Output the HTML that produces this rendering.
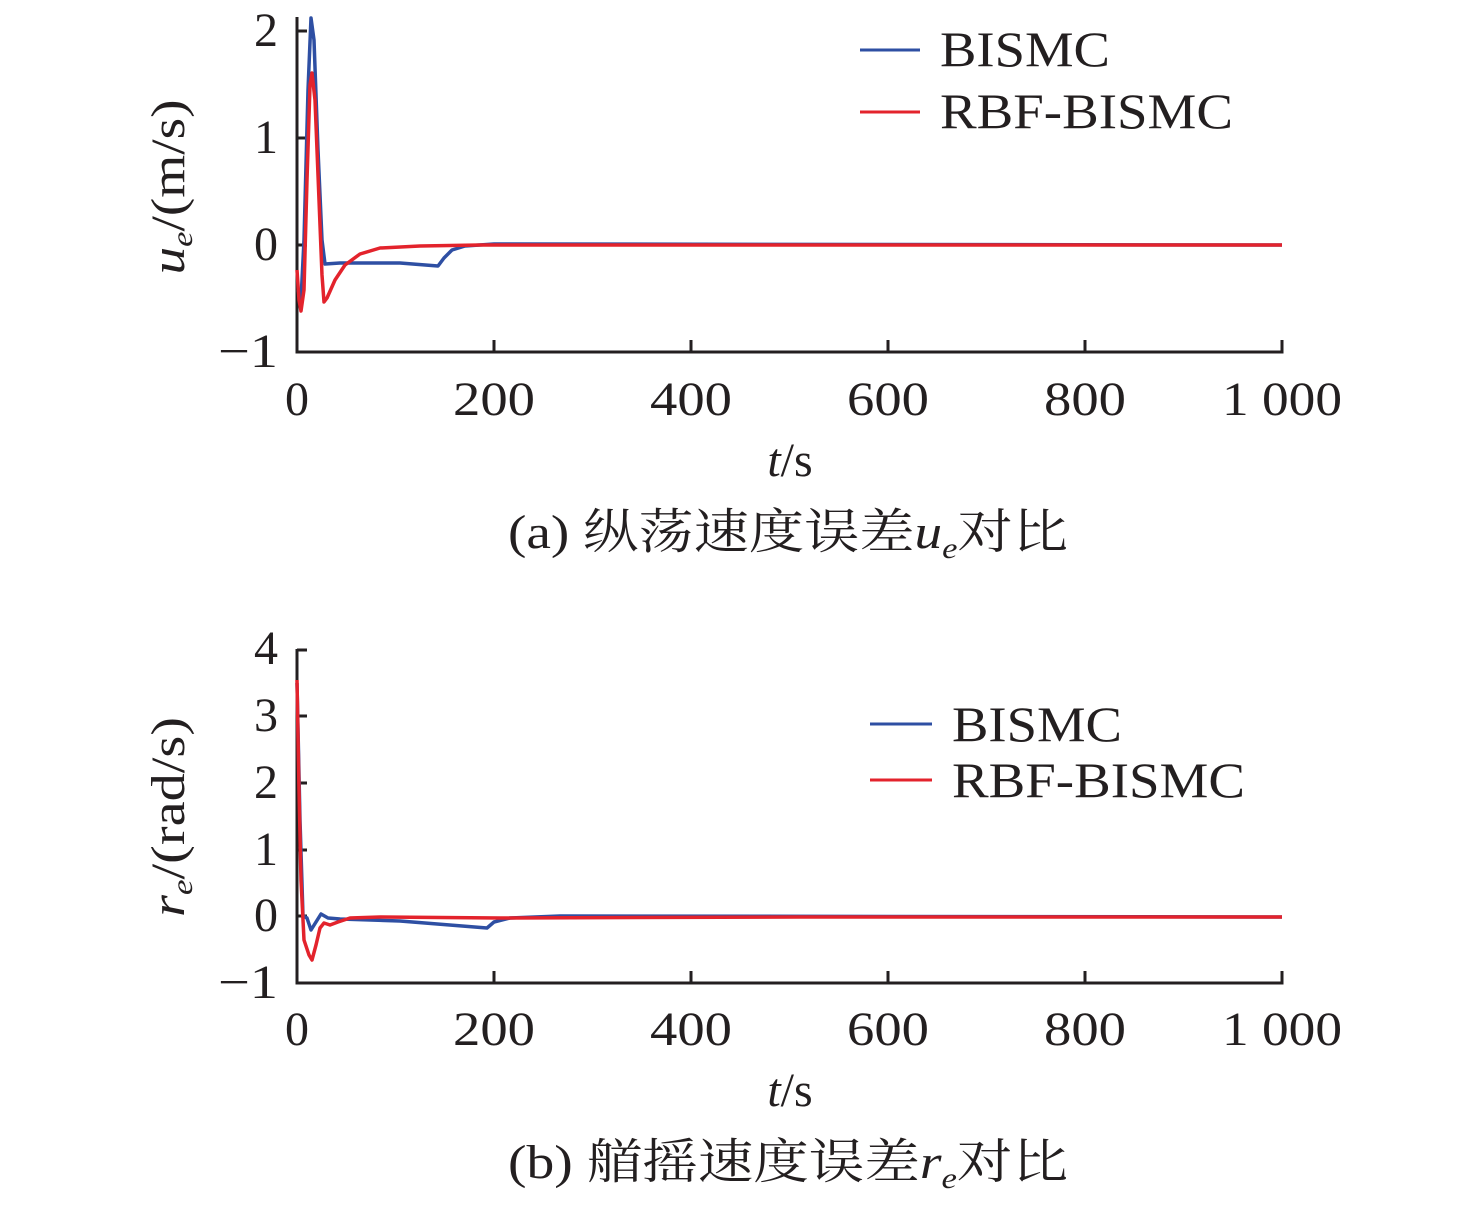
<!DOCTYPE html>
<html><head><meta charset="utf-8"><style>
body{margin:0;background:#fff}
svg text{font-family:"Liberation Serif","Noto Serif CJK SC",serif;fill:#231f20}
</style></head><body>
<svg width="1476" height="1208" viewBox="0 0 1476 1208" xmlns="http://www.w3.org/2000/svg">
<g stroke="#231f20" stroke-width="3" fill="none">
<path d="M297 17 V352 H1282 V340"/>
<path d="M297 31 H307 M297 138 H307 M297 245 H307 M494 352 V340 M691 352 V340 M888 352 V340 M1085 352 V340"/>
<path d="M297 649 V983 H1282 V971"/>
<path d="M297 650 H307 M297 716 H307 M297 783 H307 M297 850 H307 M297 916 H307 M494 983 V971 M691 983 V971 M888 983 V971 M1085 983 V971"/>
</g>
<g font-size="48" text-anchor="end">
<text x="278" y="46">2</text><text x="278" y="153">1</text><text x="278" y="260">0</text><text x="278" y="367" textLength="60" lengthAdjust="spacingAndGlyphs">−1</text>
<text x="278" y="664">4</text><text x="278" y="731">3</text><text x="278" y="798">2</text><text x="278" y="865">1</text><text x="278" y="931">0</text><text x="278" y="998" textLength="60" lengthAdjust="spacingAndGlyphs">−1</text>
</g>
<g font-size="48" text-anchor="middle">
<text x="297" y="415">0</text><text x="494" y="415" textLength="82" lengthAdjust="spacingAndGlyphs">200</text><text x="691" y="415" textLength="82" lengthAdjust="spacingAndGlyphs">400</text><text x="888" y="415" textLength="82" lengthAdjust="spacingAndGlyphs">600</text><text x="1085" y="415" textLength="82" lengthAdjust="spacingAndGlyphs">800</text><text x="1282" y="415" textLength="120" lengthAdjust="spacingAndGlyphs">1 000</text>
<text x="297" y="1045">0</text><text x="494" y="1045" textLength="82" lengthAdjust="spacingAndGlyphs">200</text><text x="691" y="1045" textLength="82" lengthAdjust="spacingAndGlyphs">400</text><text x="888" y="1045" textLength="82" lengthAdjust="spacingAndGlyphs">600</text><text x="1085" y="1045" textLength="82" lengthAdjust="spacingAndGlyphs">800</text><text x="1282" y="1045" textLength="120" lengthAdjust="spacingAndGlyphs">1 000</text>
<text x="790" y="476"><tspan font-style="italic">t</tspan>/s</text>
<text x="790" y="1106"><tspan font-style="italic">t</tspan>/s</text>
</g>
<text font-size="48" x="508" y="548" textLength="560" lengthAdjust="spacingAndGlyphs">(a) 纵荡速度误差<tspan font-style="italic">u</tspan><tspan font-style="italic" font-size="30" dy="10">e</tspan><tspan dy="-10">对比</tspan></text>
<text font-size="48" x="508" y="1178" textLength="560" lengthAdjust="spacingAndGlyphs">(b) 艏摇速度误差<tspan font-style="italic">r</tspan><tspan font-style="italic" font-size="30" dy="10">e</tspan><tspan dy="-10">对比</tspan></text>
<text font-size="48" transform="translate(184,187) rotate(-90)" text-anchor="middle" textLength="175" lengthAdjust="spacingAndGlyphs"><tspan font-style="italic">u</tspan><tspan font-style="italic" font-size="30" dy="8">e</tspan><tspan dy="-8">/(m/s)</tspan></text>
<text font-size="48" transform="translate(184,817) rotate(-90)" text-anchor="middle" textLength="200" lengthAdjust="spacingAndGlyphs"><tspan font-style="italic">r</tspan><tspan font-style="italic" font-size="30" dy="8">e</tspan><tspan dy="-8">/(rad/s)</tspan></text>
<g font-size="50">
<text x="940" y="66" textLength="170" lengthAdjust="spacingAndGlyphs">BISMC</text><text x="940" y="128" textLength="293" lengthAdjust="spacingAndGlyphs">RBF-BISMC</text>
<text x="952" y="741" textLength="170" lengthAdjust="spacingAndGlyphs">BISMC</text><text x="952" y="797" textLength="293" lengthAdjust="spacingAndGlyphs">RBF-BISMC</text>
</g>
<g stroke-width="3.5" fill="none" stroke-linejoin="round">
<path d="M860 50 H920 M870 724 H932" stroke="#2e4fa3" stroke-width="3"/>
<path d="M860 112 H920 M870 780 H932" stroke="#e3232c" stroke-width="3"/>
<path stroke="#2e4fa3" d="M298 290 L301 300 L304 240 L308 90 L311 18 L314 40 L318 150 L322 240 L325 264 L340 263 L400 263 L438 266 L444 258 L452 250 L465 246 L494 244 L1282 245"/>
<path stroke="#e3232c" d="M297 270 L299 300 L301 311 L304 290 L307 180 L310 85 L312 73 L315 100 L319 200 L322 275 L324 302 L327 298 L335 280 L345 265 L360 254 L380 248 L420 246 L480 245 L1282 245"/>
<path stroke="#2e4fa3" d="M297 683 L300 820 L303 916 L307 918 L311 930 L316 922 L321 914 L328 918 L340 919 L400 921 L487 928 L494 922 L510 918 L560 916 L1282 917"/>
<path stroke="#e3232c" d="M297 680 L299 790 L301 880 L304 940 L309 955 L312 960 L316 945 L320 928 L324 923 L330 925 L338 922 L350 918 L380 917 L500 918 L800 917 L1282 917"/>
</g>
</svg>
</body></html>
